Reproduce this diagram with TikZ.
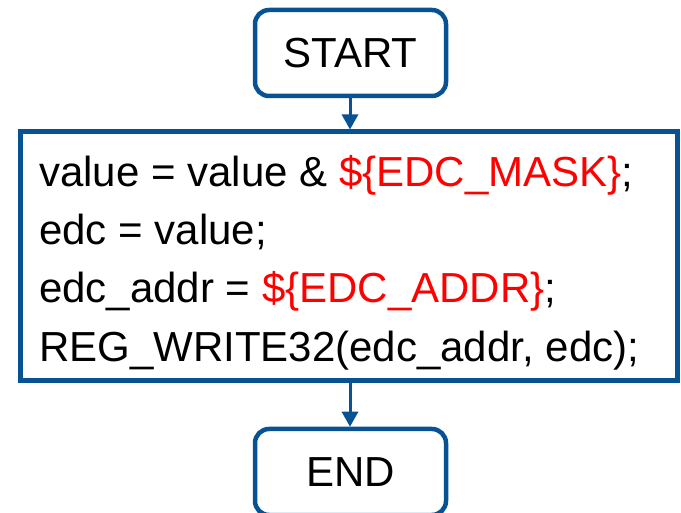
\documentclass[tikz,border=0pt]{standalone}
\usepackage{fontspec}
\setmainfont{Liberation Sans}
\usetikzlibrary{arrows.meta}
\definecolor{flowblue}{RGB}{6,82,146}
\definecolor{varred}{RGB}{255,0,0}
\tikzset{
  terminal/.style={draw=flowblue, line width=4.5pt, rounded corners=14pt, fill=white,
    minimum width=191pt, minimum height=86pt, inner sep=0pt, font=\fontsize{42}{50}\selectfont},
  procbox/.style={draw=flowblue, line width=5pt, minimum width=657pt, minimum height=249pt, inner sep=0pt},
  codeline/.style={anchor=base west, inner sep=0pt, font=\fontsize{42}{50}\selectfont},
  flowarrow/.style={draw=flowblue, line width=3pt, -{Triangle[width=16pt,length=15pt]}}
}
\begin{document}
\begin{tikzpicture}[x=1pt,y=-1pt]
  \useasboundingbox (0,0) rectangle (681,513);
  \node[terminal] (start) at (350.5,53) {START};
  \node[procbox] (proc) at (348.5,256.5) {};
  \node[codeline] (l1) at (39,187) {value = value \& \textcolor{varred}{\$\{EDC\_MASK\}};};
  \node[codeline] (l2) at (39,245) {edc = value;};
  \node[codeline] (l3) at (39,303) {edc\_addr = \textcolor{varred}{\$\{EDC\_ADDR\}};};
  \node[codeline] (l4) at (39,362) {REG\_WRITE32(edc\_addr, edc);};
  \node[terminal] (end) at (350.5,472) {END};
  \draw[flowarrow] ([xshift=-0.5pt]start.south) -- ([xshift=-0.5pt]start.south |- proc.north);
  \draw[flowarrow] ([xshift=-0.5pt]start.south |- proc.south) -- ([xshift=-0.5pt]end.north);
\end{tikzpicture}
\end{document}
